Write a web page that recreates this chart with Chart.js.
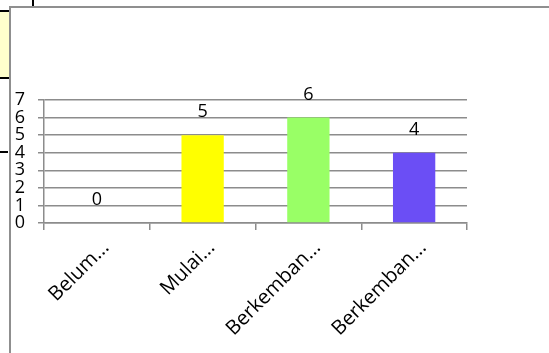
<!DOCTYPE html>
<html>
<head>
<meta charset="utf-8">
<script src="https://cdn.jsdelivr.net/npm/chart.js@4"></script>
<style>
    body { margin: 0; background: #fff; width: 549px; height: 353px; overflow: hidden; position: relative; }
    #chart { position: absolute; left: 0; top: 0; }
    .frame { position: absolute; background: #8f8f8f; }
    .cell { position: absolute; background: #000; }
</style>
</head>
<body>
<!-- celdas de la hoja detrás del gráfico -->
<div style="position:absolute;left:0;top:10px;width:9px;height:69px;background:#ffffcc;"></div>
<div class="cell" style="left:0;top:10px;width:9px;height:2px;"></div>
<div class="cell" style="left:0;top:77px;width:9px;height:2px;"></div>
<div class="cell" style="left:0;top:151px;width:8px;height:2px;"></div>
<div class="cell" style="left:32px;top:0;width:2px;height:7px;"></div>
<!-- marco del gráfico -->
<div class="frame" style="left:9px;top:6px;width:540px;height:2px;"></div>
<div class="frame" style="left:9px;top:6px;width:2px;height:347px;"></div>

<canvas id="chart" width="549" height="353"></canvas>

<script>
    // --- DATOS ---
    const categories = ['Belum...', 'Mulai...', 'Berkemban...', 'Berkemban...'];
    const values = [0, 5, 6, 4];
    const barColors = ['#ffff00', '#ffff00', '#99ff66', '#6b4ef5'];
    const yTicks = [0, 1, 2, 3, 4, 5, 6, 7];

    const FONT = 'Open Sans';
    const FONT_SIZE = 18;
    const GRID = '#8c8c8c';

    // etiquetas de valor encima de cada barra
    const valueLabels = {
        id: 'valueLabels',
        afterDatasetsDraw(chart) {
            const ctx = chart.ctx;
            const meta = chart.getDatasetMeta(0);
            ctx.save();
            ctx.font = FONT_SIZE + 'px "' + FONT + '"';
            ctx.fillStyle = '#000';
            ctx.textAlign = 'center';
            ctx.textBaseline = 'middle';
            meta.data.forEach((bar, i) => {
                ctx.fillText(String(values[i]), bar.x, bar.y - 23);
            });
            ctx.restore();
        }
    };

    new Chart(document.getElementById('chart'), {
        type: 'bar',
        data: {
            labels: categories,
            datasets: [{
                data: values,
                backgroundColor: barColors,
                borderWidth: 0,
                categoryPercentage: 1,
                barPercentage: 0.4
            }]
        },
        options: {
            responsive: false,
            animation: false,
            devicePixelRatio: 1,
            layout: { padding: { left: 0, top: 100, right: 82, bottom: 0 } },
            plugins: { legend: { display: false }, tooltip: { enabled: false }, title: { display: false } },
            scales: {
                y: {
                    min: yTicks[0],
                    max: yTicks[yTicks.length - 1],
                    afterFit: (s) => { s.width = 44; },
                    afterBuildTicks: (s) => { s.ticks = yTicks.map(v => ({ value: v })); },
                    ticks: { autoSkip: false, padding: 13, color: '#000', font: { family: FONT, size: FONT_SIZE }, lineHeight: 1 },
                    grid: { color: GRID, lineWidth: 1.5, tickLength: 6 },
                    border: { color: GRID, width: 1.5 }
                },
                x: {
                    afterFit: (s) => { s.height = 130; },
                    ticks: { autoSkip: false, minRotation: 45, maxRotation: 45, padding: 6, labelOffset: 9, color: '#000', font: { family: FONT, size: 20 } },
                    grid: { drawOnChartArea: false, color: GRID, lineWidth: 1.5, tickLength: 7 },
                    border: { color: GRID, width: 1.5 }
                }
            }
        },
        plugins: [valueLabels]
    });
</script>
</body>
</html>
